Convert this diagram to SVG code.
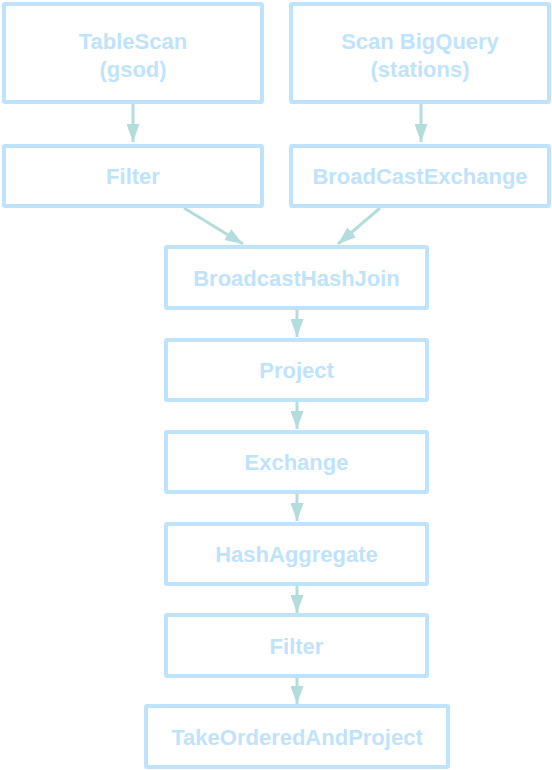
<svg xmlns="http://www.w3.org/2000/svg" width="552" height="770" viewBox="0 0 552 770">
<defs>
<style>
.box{fill:#ffffff;stroke:#bfe3fd;stroke-width:4}
.lbl{font-family:"Liberation Sans",Arial,sans-serif;font-weight:bold;font-size:22px;fill:#bfe3fd;text-anchor:middle}
</style>
<marker id="ah2" viewBox="0 0 18 13" refX="18" refY="6.5" markerWidth="18" markerHeight="13" markerUnits="userSpaceOnUse" orient="auto">
<path d="M0,0 L18,6.5 L0,13 Z" fill="#b5dcdc"/>
</marker>
</defs>
<rect width="552" height="770" fill="#ffffff"/>
<g id="connectors" stroke="#b5dcdc" stroke-width="3" marker-end="url(#ah2)">
<line x1="133" y1="104" x2="133" y2="142"/>
<line x1="421" y1="104" x2="421" y2="142"/>
<line x1="184" y1="208" x2="243" y2="244"/>
<line x1="380" y1="208" x2="338" y2="244"/>
<line x1="297" y1="309" x2="297" y2="337"/>
<line x1="297" y1="401" x2="297" y2="429"/>
<line x1="297" y1="493" x2="297" y2="521"/>
<line x1="297" y1="585" x2="297" y2="613"/>
<line x1="297" y1="677" x2="297" y2="704"/>
</g>
<g id="tablescan"><rect class="box" x="4" y="4" width="258" height="98" rx="1"/><text class="lbl" x="133" y="49">TableScan</text><text class="lbl" x="133" y="77">(gsod)</text></g>
<g id="scanbigquery"><rect class="box" x="291" y="4" width="258" height="98" rx="1"/><text class="lbl" x="420" y="49">Scan BigQuery</text><text class="lbl" x="420" y="77">(stations)</text></g>
<g id="filter1"><rect class="box" x="4" y="146" width="258" height="60" rx="1"/><text class="lbl" x="133" y="184">Filter</text></g>
<g id="broadcastexchange"><rect class="box" x="291" y="146" width="258" height="60" rx="1"/><text class="lbl" x="420" y="184">BroadCastExchange</text></g>
<g id="broadcasthashjoin"><rect class="box" x="166" y="247" width="261" height="61" rx="1"/><text class="lbl" x="296.5" y="286">BroadcastHashJoin</text></g>
<g id="project"><rect class="box" x="166" y="340" width="261" height="60" rx="1"/><text class="lbl" x="296.5" y="378">Project</text></g>
<g id="exchange"><rect class="box" x="166" y="432" width="261" height="60" rx="1"/><text class="lbl" x="296.5" y="470">Exchange</text></g>
<g id="hashaggregate"><rect class="box" x="166" y="524" width="261" height="60" rx="1"/><text class="lbl" x="296.5" y="562">HashAggregate</text></g>
<g id="filter2"><rect class="box" x="166" y="615" width="261" height="61" rx="1"/><text class="lbl" x="296.5" y="654">Filter</text></g>
<g id="takeorderedandproject"><rect class="box" x="146" y="706" width="302" height="61" rx="1"/><text class="lbl" x="297" y="745">TakeOrderedAndProject</text></g>
</svg>
